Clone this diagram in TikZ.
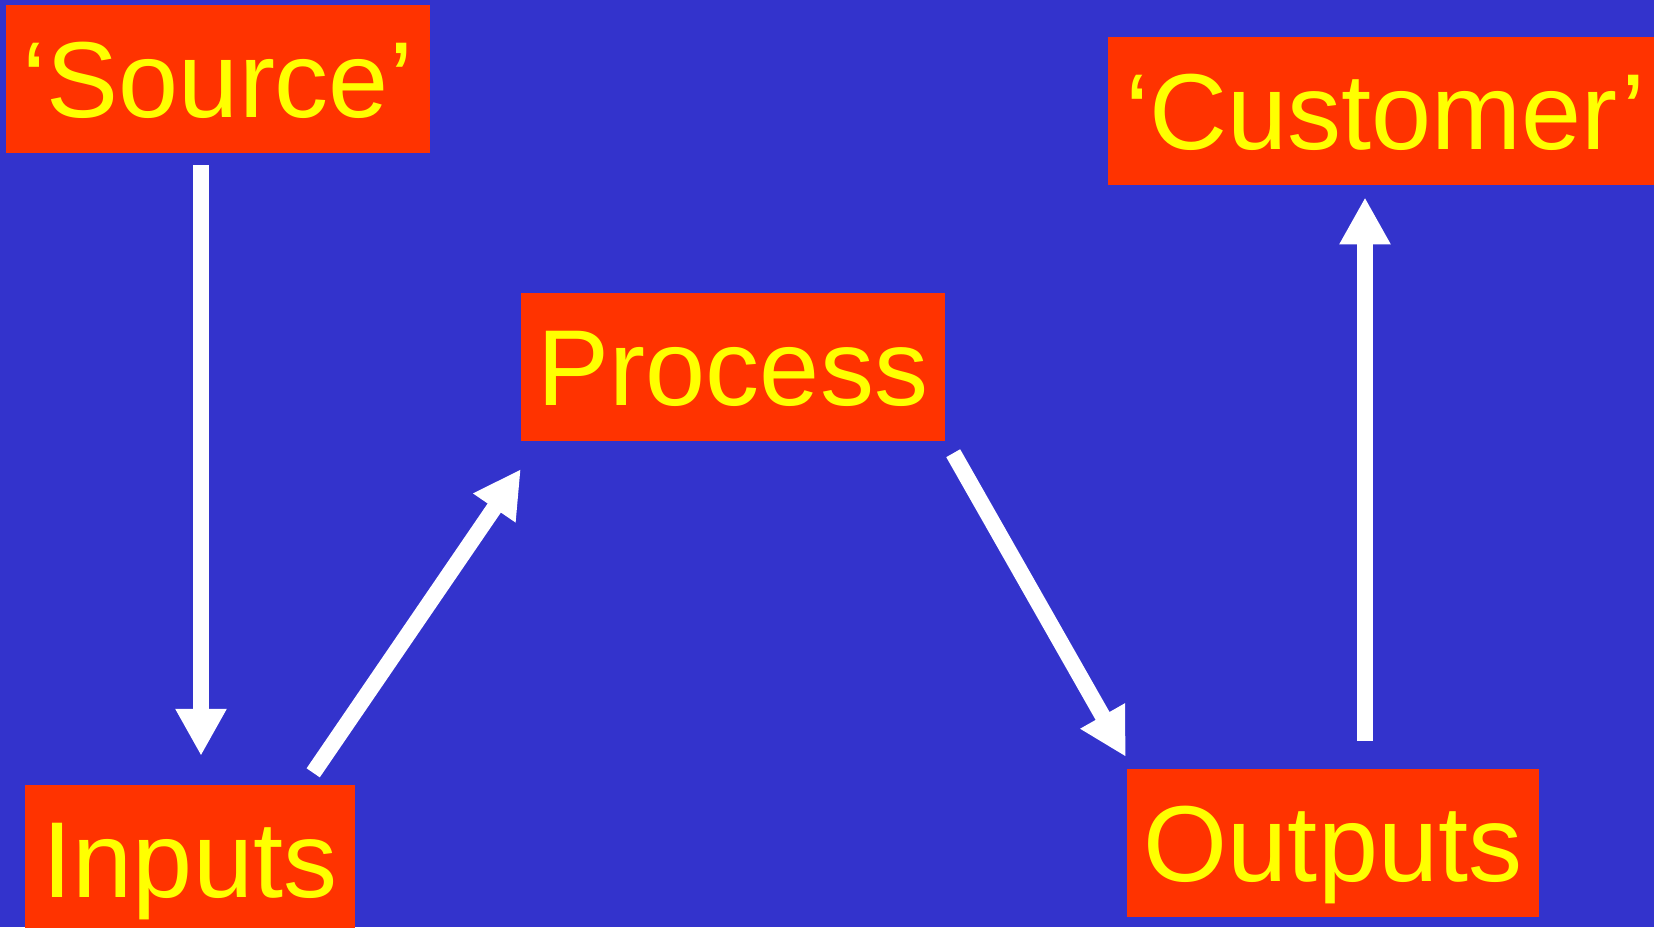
\documentclass[tikz,border=0pt]{standalone}
\usepackage{fontspec}
\setmainfont{Liberation Sans}
\usetikzlibrary{arrows.meta}

\definecolor{slideblue}{HTML}{3333CC}
\definecolor{boxred}{HTML}{FF3300}
\definecolor{labelyellow}{HTML}{FFFF00}

\tikzset{
  stagebox/.style={fill=boxred, text=labelyellow, inner sep=0pt,
    minimum width=424pt, minimum height=148pt,
    text height=77pt, text depth=0pt,
    font=\fontsize{108}{120}\selectfont},
  flow/.style={draw=white, line width=16pt, -{Triangle[width=48pt,length=47pt]}},
}

\begin{document}
\begin{tikzpicture}[x=1pt,y=-1pt]
  % background
  \clip (0,0) rectangle (1654,927);
  \fill[slideblue] (0,0) rectangle (1654,927);

  % the boxes
  \node[stagebox] (source) at (218,79) {‘Source’};
  \node[stagebox] (process) at (733,367) {Process};
  \node[stagebox, minimum width=330pt] (inputs) at (190,859) {Inputs};
  \node[stagebox, minimum width=412pt] (outputs) at (1333,843) {Outputs};
  \node[stagebox, anchor=north west, inner xsep=17pt, text width=560pt, align=left]
    (customer) at (1108,37) {‘Customer’};

  % the arrows
  \draw[flow] ([xshift=-17pt,yshift=-12pt]source.south) -- ([xshift=11pt,yshift=29pt]inputs.north);
  \draw[flow] ([xshift=-42pt,yshift=12pt]inputs.north east) -- ([yshift=-28pt]process.south west);
  \draw[flow] ([xshift=8pt,yshift=-12pt]process.south east) -- ([xshift=-1pt,yshift=12pt]outputs.north west);
  \draw[flow] ([xshift=32pt,yshift=28pt]outputs.north) -- ([xshift=257pt,yshift=-12pt]customer.south west);
\end{tikzpicture}
\end{document}
